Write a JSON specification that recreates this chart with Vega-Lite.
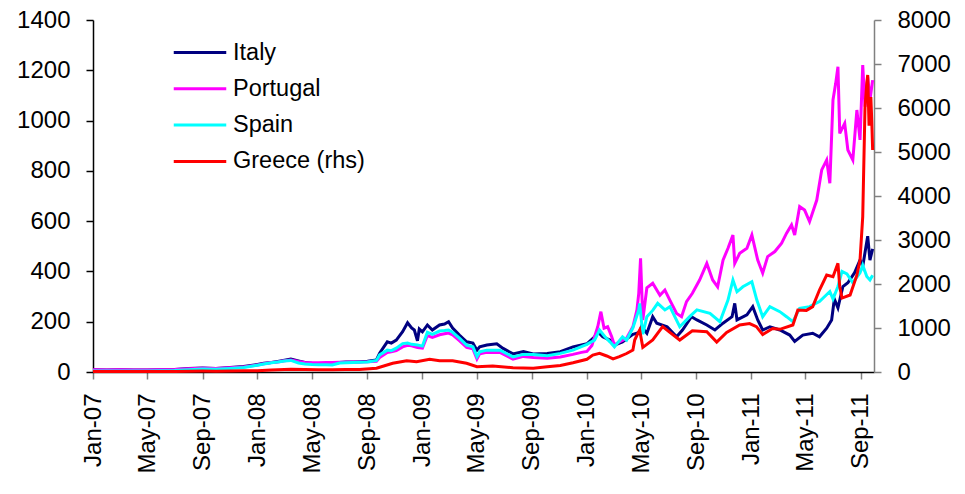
{
"$schema":"https://vega.github.io/schema/vega-lite/v6.json",
"width":781,"height":352,
"autosize":{"type":"none"},
"padding":{"left":93,"top":20,"right":91,"bottom":122},
"background":"white",
"config":{"view":{"stroke":null},"font":"Liberation Sans",
 "axis":{"labelFont":"Liberation Sans","labelColor":"#000","labelFontSize":24,"grid":false,"title":null,"tickSize":7,"labelFlush":false,"labelOverlap":false,"domainWidth":1.5,"tickWidth":1.5},
 "legend":{"padding":0}},
"data":{"values":[
{"date":"2007-01-01","series":"Italy","value":9},{"date":"2007-02-01","series":"Italy","value":8},{"date":"2007-03-01","series":"Italy","value":9},{"date":"2007-04-01","series":"Italy","value":8},{"date":"2007-05-01","series":"Italy","value":8},{"date":"2007-06-01","series":"Italy","value":9},{"date":"2007-07-01","series":"Italy","value":10},{"date":"2007-08-01","series":"Italy","value":14},{"date":"2007-09-01","series":"Italy","value":16},{"date":"2007-10-01","series":"Italy","value":14},{"date":"2007-11-01","series":"Italy","value":18},{"date":"2007-12-01","series":"Italy","value":22},
{"date":"2008-01-01","series":"Italy","value":30},{"date":"2008-01-15","series":"Italy","value":35},{"date":"2008-02-01","series":"Italy","value":38},{"date":"2008-02-15","series":"Italy","value":42},{"date":"2008-03-01","series":"Italy","value":47},{"date":"2008-03-15","series":"Italy","value":52},{"date":"2008-04-01","series":"Italy","value":44},{"date":"2008-04-15","series":"Italy","value":38},{"date":"2008-05-01","series":"Italy","value":35},{"date":"2008-05-15","series":"Italy","value":34},{"date":"2008-06-01","series":"Italy","value":33},{"date":"2008-06-15","series":"Italy","value":32},{"date":"2008-07-01","series":"Italy","value":38},{"date":"2008-07-15","series":"Italy","value":40},{"date":"2008-08-01","series":"Italy","value":40},{"date":"2008-08-14","series":"Italy","value":41},{"date":"2008-09-01","series":"Italy","value":43},{"date":"2008-09-21","series":"Italy","value":48},{"date":"2008-09-28","series":"Italy","value":75},{"date":"2008-10-15","series":"Italy","value":120},{"date":"2008-10-24","series":"Italy","value":115},{"date":"2008-11-04","series":"Italy","value":127},{"date":"2008-11-18","series":"Italy","value":160},{"date":"2008-11-29","series":"Italy","value":196},{"date":"2008-12-08","series":"Italy","value":175},{"date":"2008-12-14","series":"Italy","value":167},{"date":"2008-12-21","series":"Italy","value":124},{"date":"2008-12-25","series":"Italy","value":171},
{"date":"2009-01-01","series":"Italy","value":160},{"date":"2009-01-12","series":"Italy","value":187},{"date":"2009-01-23","series":"Italy","value":167},{"date":"2009-02-08","series":"Italy","value":187},{"date":"2009-02-19","series":"Italy","value":191},{"date":"2009-02-28","series":"Italy","value":200},{"date":"2009-03-09","series":"Italy","value":175},{"date":"2009-03-24","series":"Italy","value":147},{"date":"2009-04-09","series":"Italy","value":120},{"date":"2009-04-23","series":"Italy","value":115},{"date":"2009-05-02","series":"Italy","value":87},{"date":"2009-05-08","series":"Italy","value":100},{"date":"2009-05-24","series":"Italy","value":107},{"date":"2009-06-15","series":"Italy","value":112},{"date":"2009-06-29","series":"Italy","value":94},{"date":"2009-07-21","series":"Italy","value":72},{"date":"2009-08-13","series":"Italy","value":81},{"date":"2009-09-04","series":"Italy","value":72},{"date":"2009-10-05","series":"Italy","value":74},{"date":"2009-11-03","series":"Italy","value":81},{"date":"2009-12-01","series":"Italy","value":100},
{"date":"2010-01-01","series":"Italy","value":112},{"date":"2010-01-18","series":"Italy","value":140},{"date":"2010-01-25","series":"Italy","value":160},{"date":"2010-02-05","series":"Italy","value":140},{"date":"2010-02-21","series":"Italy","value":127},{"date":"2010-03-03","series":"Italy","value":107},{"date":"2010-03-21","series":"Italy","value":120},{"date":"2010-04-13","series":"Italy","value":150},{"date":"2010-04-22","series":"Italy","value":154},{"date":"2010-04-28","series":"Italy","value":160},{"date":"2010-05-02","series":"Italy","value":180},{"date":"2010-05-14","series":"Italy","value":154},{"date":"2010-05-27","series":"Italy","value":220},{"date":"2010-06-05","series":"Italy","value":194},{"date":"2010-06-28","series":"Italy","value":180},{"date":"2010-07-19","series":"Italy","value":140},{"date":"2010-08-01","series":"Italy","value":167},{"date":"2010-08-21","series":"Italy","value":220},{"date":"2010-09-02","series":"Italy","value":207},{"date":"2010-09-24","series":"Italy","value":187},{"date":"2010-10-12","series":"Italy","value":167},{"date":"2010-10-30","series":"Italy","value":194},{"date":"2010-11-19","series":"Italy","value":220},{"date":"2010-11-25","series":"Italy","value":273},{"date":"2010-11-30","series":"Italy","value":207},{"date":"2010-12-22","series":"Italy","value":227},
{"date":"2011-01-04","series":"Italy","value":260},{"date":"2011-01-15","series":"Italy","value":207},{"date":"2011-01-26","series":"Italy","value":167},{"date":"2011-02-11","series":"Italy","value":180},{"date":"2011-03-05","series":"Italy","value":167},{"date":"2011-03-27","series":"Italy","value":147},{"date":"2011-04-07","series":"Italy","value":122},{"date":"2011-04-25","series":"Italy","value":147},{"date":"2011-05-17","series":"Italy","value":154},{"date":"2011-06-01","series":"Italy","value":140},{"date":"2011-06-17","series":"Italy","value":174},{"date":"2011-06-28","series":"Italy","value":207},{"date":"2011-07-04","series":"Italy","value":290},{"date":"2011-07-12","series":"Italy","value":255},{"date":"2011-07-23","series":"Italy","value":340},{"date":"2011-08-03","series":"Italy","value":355},{"date":"2011-08-18","series":"Italy","value":395},{"date":"2011-08-30","series":"Italy","value":445},{"date":"2011-09-05","series":"Italy","value":420},{"date":"2011-09-16","series":"Italy","value":540},{"date":"2011-09-21","series":"Italy","value":445},{"date":"2011-09-27","series":"Italy","value":490},

{"date":"2007-01-01","series":"Portugal","value":9},{"date":"2007-02-01","series":"Portugal","value":8},{"date":"2007-03-01","series":"Portugal","value":9},{"date":"2007-04-01","series":"Portugal","value":8},{"date":"2007-05-01","series":"Portugal","value":8},{"date":"2007-06-01","series":"Portugal","value":9},{"date":"2007-07-01","series":"Portugal","value":10},{"date":"2007-08-01","series":"Portugal","value":13},{"date":"2007-09-01","series":"Portugal","value":15},{"date":"2007-10-01","series":"Portugal","value":14},{"date":"2007-11-01","series":"Portugal","value":17},{"date":"2007-12-01","series":"Portugal","value":20},
{"date":"2008-01-01","series":"Portugal","value":28},{"date":"2008-01-15","series":"Portugal","value":33},{"date":"2008-02-01","series":"Portugal","value":38},{"date":"2008-02-15","series":"Portugal","value":40},{"date":"2008-03-01","series":"Portugal","value":45},{"date":"2008-03-15","series":"Portugal","value":48},{"date":"2008-04-01","series":"Portugal","value":42},{"date":"2008-04-15","series":"Portugal","value":38},{"date":"2008-05-01","series":"Portugal","value":37},{"date":"2008-05-15","series":"Portugal","value":37},{"date":"2008-06-01","series":"Portugal","value":38},{"date":"2008-06-15","series":"Portugal","value":38},{"date":"2008-07-01","series":"Portugal","value":39},{"date":"2008-07-15","series":"Portugal","value":39},{"date":"2008-08-01","series":"Portugal","value":40},{"date":"2008-08-14","series":"Portugal","value":40},{"date":"2008-09-01","series":"Portugal","value":41},{"date":"2008-09-21","series":"Portugal","value":43},{"date":"2008-09-28","series":"Portugal","value":58},{"date":"2008-10-15","series":"Portugal","value":78},{"date":"2008-10-24","series":"Portugal","value":80},{"date":"2008-11-04","series":"Portugal","value":85},{"date":"2008-11-18","series":"Portugal","value":100},{"date":"2008-11-29","series":"Portugal","value":106},{"date":"2008-12-08","series":"Portugal","value":104},{"date":"2008-12-21","series":"Portugal","value":97},
{"date":"2009-01-01","series":"Portugal","value":95},{"date":"2009-01-12","series":"Portugal","value":145},{"date":"2009-01-23","series":"Portugal","value":138},{"date":"2009-02-08","series":"Portugal","value":148},{"date":"2009-02-19","series":"Portugal","value":152},{"date":"2009-02-28","series":"Portugal","value":155},{"date":"2009-03-09","series":"Portugal","value":148},{"date":"2009-03-24","series":"Portugal","value":125},{"date":"2009-04-09","series":"Portugal","value":98},{"date":"2009-04-23","series":"Portugal","value":92},{"date":"2009-05-02","series":"Portugal","value":52},{"date":"2009-05-08","series":"Portugal","value":72},{"date":"2009-05-24","series":"Portugal","value":78},{"date":"2009-06-22","series":"Portugal","value":78},{"date":"2009-07-21","series":"Portugal","value":51},{"date":"2009-08-13","series":"Portugal","value":62},{"date":"2009-09-04","series":"Portugal","value":58},{"date":"2009-10-05","series":"Portugal","value":55},{"date":"2009-11-03","series":"Portugal","value":60},{"date":"2009-12-01","series":"Portugal","value":70},{"date":"2009-12-20","series":"Portugal","value":78},
{"date":"2010-01-01","series":"Portugal","value":82},{"date":"2010-01-12","series":"Portugal","value":105},{"date":"2010-01-18","series":"Portugal","value":140},{"date":"2010-01-25","series":"Portugal","value":180},{"date":"2010-02-01","series":"Portugal","value":240},{"date":"2010-02-08","series":"Portugal","value":174},{"date":"2010-02-16","series":"Portugal","value":180},{"date":"2010-02-25","series":"Portugal","value":140},{"date":"2010-03-03","series":"Portugal","value":107},{"date":"2010-03-14","series":"Portugal","value":120},{"date":"2010-03-30","series":"Portugal","value":134},{"date":"2010-04-13","series":"Portugal","value":180},{"date":"2010-04-22","series":"Portugal","value":247},{"date":"2010-04-26","series":"Portugal","value":313},{"date":"2010-04-30","series":"Portugal","value":452},{"date":"2010-05-05","series":"Portugal","value":207},{"date":"2010-05-14","series":"Portugal","value":335},{"date":"2010-05-27","series":"Portugal","value":353},{"date":"2010-06-12","series":"Portugal","value":305},{"date":"2010-06-23","series":"Portugal","value":326},{"date":"2010-07-04","series":"Portugal","value":286},{"date":"2010-07-19","series":"Portugal","value":233},{"date":"2010-07-30","series":"Portugal","value":220},{"date":"2010-08-10","series":"Portugal","value":280},{"date":"2010-08-23","series":"Portugal","value":313},{"date":"2010-09-08","series":"Portugal","value":366},{"date":"2010-09-24","series":"Portugal","value":432},{"date":"2010-10-07","series":"Portugal","value":366},{"date":"2010-10-18","series":"Portugal","value":339},{"date":"2010-10-30","series":"Portugal","value":445},{"date":"2010-11-10","series":"Portugal","value":492},{"date":"2010-11-21","series":"Portugal","value":545},{"date":"2010-11-25","series":"Portugal","value":432},{"date":"2010-12-06","series":"Portugal","value":472},{"date":"2010-12-22","series":"Portugal","value":492},
{"date":"2011-01-02","series":"Portugal","value":545},{"date":"2011-01-15","series":"Portugal","value":445},{"date":"2011-01-26","series":"Portugal","value":393},{"date":"2011-02-06","series":"Portugal","value":459},{"date":"2011-02-22","series":"Portugal","value":479},{"date":"2011-03-09","series":"Portugal","value":512},{"date":"2011-03-20","series":"Portugal","value":552},{"date":"2011-03-31","series":"Portugal","value":585},{"date":"2011-04-07","series":"Portugal","value":545},{"date":"2011-04-18","series":"Portugal","value":658},{"date":"2011-04-29","series":"Portugal","value":644},{"date":"2011-05-10","series":"Portugal","value":598},{"date":"2011-05-26","series":"Portugal","value":684},{"date":"2011-06-06","series":"Portugal","value":804},{"date":"2011-06-17","series":"Portugal","value":843},{"date":"2011-06-24","series":"Portugal","value":751},{"date":"2011-07-01","series":"Portugal","value":1082},{"date":"2011-07-07","series":"Portugal","value":1148},{"date":"2011-07-12","series":"Portugal","value":1214},{"date":"2011-07-16","series":"Portugal","value":949},{"date":"2011-07-27","series":"Portugal","value":989},{"date":"2011-08-03","series":"Portugal","value":883},{"date":"2011-08-14","series":"Portugal","value":843},{"date":"2011-08-23","series":"Portugal","value":1042},{"date":"2011-08-30","series":"Portugal","value":923},{"date":"2011-09-05","series":"Portugal","value":1221},{"date":"2011-09-10","series":"Portugal","value":1055},{"date":"2011-09-16","series":"Portugal","value":1175},{"date":"2011-09-21","series":"Portugal","value":1082},{"date":"2011-09-27","series":"Portugal","value":1161},

{"date":"2007-01-01","series":"Spain","value":4},{"date":"2007-02-01","series":"Spain","value":4},{"date":"2007-03-01","series":"Spain","value":4},{"date":"2007-04-01","series":"Spain","value":4},{"date":"2007-05-01","series":"Spain","value":4},{"date":"2007-06-01","series":"Spain","value":5},{"date":"2007-07-01","series":"Spain","value":6},{"date":"2007-08-01","series":"Spain","value":9},{"date":"2007-09-01","series":"Spain","value":12},{"date":"2007-10-01","series":"Spain","value":11},{"date":"2007-11-01","series":"Spain","value":14},{"date":"2007-12-01","series":"Spain","value":18},
{"date":"2008-01-01","series":"Spain","value":27},{"date":"2008-01-15","series":"Spain","value":32},{"date":"2008-02-01","series":"Spain","value":37},{"date":"2008-02-15","series":"Spain","value":40},{"date":"2008-03-01","series":"Spain","value":44},{"date":"2008-03-15","series":"Spain","value":46},{"date":"2008-04-01","series":"Spain","value":36},{"date":"2008-04-15","series":"Spain","value":32},{"date":"2008-05-01","series":"Spain","value":30},{"date":"2008-05-15","series":"Spain","value":29},{"date":"2008-06-01","series":"Spain","value":29},{"date":"2008-06-15","series":"Spain","value":28},{"date":"2008-07-01","series":"Spain","value":36},{"date":"2008-07-15","series":"Spain","value":37},{"date":"2008-08-01","series":"Spain","value":38},{"date":"2008-08-14","series":"Spain","value":39},{"date":"2008-09-01","series":"Spain","value":40},{"date":"2008-09-21","series":"Spain","value":46},{"date":"2008-09-28","series":"Spain","value":68},{"date":"2008-10-15","series":"Spain","value":87},{"date":"2008-10-24","series":"Spain","value":85},{"date":"2008-11-04","series":"Spain","value":95},{"date":"2008-11-18","series":"Spain","value":113},{"date":"2008-11-29","series":"Spain","value":115},{"date":"2008-12-08","series":"Spain","value":110},{"date":"2008-12-21","series":"Spain","value":107},
{"date":"2009-01-01","series":"Spain","value":103},{"date":"2009-01-12","series":"Spain","value":158},{"date":"2009-01-23","series":"Spain","value":150},{"date":"2009-02-08","series":"Spain","value":163},{"date":"2009-02-19","series":"Spain","value":165},{"date":"2009-02-28","series":"Spain","value":167},{"date":"2009-03-09","series":"Spain","value":158},{"date":"2009-03-24","series":"Spain","value":135},{"date":"2009-04-09","series":"Spain","value":107},{"date":"2009-04-23","series":"Spain","value":100},{"date":"2009-05-02","series":"Spain","value":61},{"date":"2009-05-08","series":"Spain","value":80},{"date":"2009-05-24","series":"Spain","value":87},{"date":"2009-06-22","series":"Spain","value":87},{"date":"2009-07-21","series":"Spain","value":60},{"date":"2009-08-13","series":"Spain","value":70},{"date":"2009-09-04","series":"Spain","value":70},{"date":"2009-10-05","series":"Spain","value":65},{"date":"2009-11-03","series":"Spain","value":74},{"date":"2009-12-01","series":"Spain","value":87},
{"date":"2010-01-01","series":"Spain","value":110},{"date":"2010-01-18","series":"Spain","value":127},{"date":"2010-01-29","series":"Spain","value":167},{"date":"2010-02-10","series":"Spain","value":140},{"date":"2010-02-21","series":"Spain","value":120},{"date":"2010-03-03","series":"Spain","value":100},{"date":"2010-03-21","series":"Spain","value":140},{"date":"2010-03-30","series":"Spain","value":127},{"date":"2010-04-13","series":"Spain","value":175},{"date":"2010-04-26","series":"Spain","value":247},{"date":"2010-04-28","series":"Spain","value":273},{"date":"2010-05-05","series":"Spain","value":150},{"date":"2010-05-14","series":"Spain","value":220},{"date":"2010-05-27","series":"Spain","value":245},{"date":"2010-06-07","series":"Spain","value":273},{"date":"2010-06-23","series":"Spain","value":247},{"date":"2010-07-04","series":"Spain","value":260},{"date":"2010-07-26","series":"Spain","value":180},{"date":"2010-08-17","series":"Spain","value":220},{"date":"2010-09-02","series":"Spain","value":247},{"date":"2010-10-01","series":"Spain","value":233},{"date":"2010-10-23","series":"Spain","value":200},{"date":"2010-11-10","series":"Spain","value":286},{"date":"2010-11-21","series":"Spain","value":366},{"date":"2010-11-30","series":"Spain","value":319},{"date":"2010-12-13","series":"Spain","value":339},
{"date":"2011-01-02","series":"Spain","value":359},{"date":"2011-01-13","series":"Spain","value":286},{"date":"2011-01-26","series":"Spain","value":220},{"date":"2011-02-11","series":"Spain","value":260},{"date":"2011-03-05","series":"Spain","value":240},{"date":"2011-03-20","series":"Spain","value":220},{"date":"2011-04-03","series":"Spain","value":200},{"date":"2011-04-18","series":"Spain","value":253},{"date":"2011-05-10","series":"Spain","value":260},{"date":"2011-06-01","series":"Spain","value":280},{"date":"2011-06-24","series":"Spain","value":320},{"date":"2011-07-01","series":"Spain","value":290},{"date":"2011-07-12","series":"Spain","value":340},{"date":"2011-07-21","series":"Spain","value":400},{"date":"2011-08-01","series":"Spain","value":390},{"date":"2011-08-14","series":"Spain","value":355},{"date":"2011-08-30","series":"Spain","value":395},{"date":"2011-09-05","series":"Spain","value":425},{"date":"2011-09-14","series":"Spain","value":380},{"date":"2011-09-21","series":"Spain","value":366},{"date":"2011-09-27","series":"Spain","value":385},

{"date":"2007-01-01","series":"Greece (rhs)","value":10},{"date":"2007-02-01","series":"Greece (rhs)","value":10},{"date":"2007-03-01","series":"Greece (rhs)","value":9},{"date":"2007-04-01","series":"Greece (rhs)","value":9},{"date":"2007-05-01","series":"Greece (rhs)","value":10},{"date":"2007-06-01","series":"Greece (rhs)","value":11},{"date":"2007-07-01","series":"Greece (rhs)","value":13},{"date":"2007-08-01","series":"Greece (rhs)","value":18},{"date":"2007-09-01","series":"Greece (rhs)","value":20},{"date":"2007-10-01","series":"Greece (rhs)","value":19},{"date":"2007-11-01","series":"Greece (rhs)","value":22},{"date":"2007-12-01","series":"Greece (rhs)","value":26},
{"date":"2008-01-01","series":"Greece (rhs)","value":30},{"date":"2008-02-01","series":"Greece (rhs)","value":45},{"date":"2008-03-15","series":"Greece (rhs)","value":61},{"date":"2008-04-15","series":"Greece (rhs)","value":55},{"date":"2008-05-15","series":"Greece (rhs)","value":52},{"date":"2008-06-15","series":"Greece (rhs)","value":52},{"date":"2008-07-15","series":"Greece (rhs)","value":55},{"date":"2008-08-14","series":"Greece (rhs)","value":55},{"date":"2008-09-21","series":"Greece (rhs)","value":84},{"date":"2008-10-27","series":"Greece (rhs)","value":198},{"date":"2008-11-27","series":"Greece (rhs)","value":257},{"date":"2008-12-19","series":"Greece (rhs)","value":235},
{"date":"2009-01-17","series":"Greece (rhs)","value":288},{"date":"2009-02-08","series":"Greece (rhs)","value":257},{"date":"2009-03-09","series":"Greece (rhs)","value":257},{"date":"2009-04-09","series":"Greece (rhs)","value":198},{"date":"2009-05-02","series":"Greece (rhs)","value":121},{"date":"2009-06-06","series":"Greece (rhs)","value":136},{"date":"2009-07-21","series":"Greece (rhs)","value":98},{"date":"2009-09-04","series":"Greece (rhs)","value":84},{"date":"2009-10-05","series":"Greece (rhs)","value":121},{"date":"2009-11-03","series":"Greece (rhs)","value":150},{"date":"2009-12-01","series":"Greece (rhs)","value":212},
{"date":"2010-01-01","series":"Greece (rhs)","value":290},{"date":"2010-01-14","series":"Greece (rhs)","value":386},{"date":"2010-01-29","series":"Greece (rhs)","value":424},{"date":"2010-02-14","series":"Greece (rhs)","value":364},{"date":"2010-02-28","series":"Greece (rhs)","value":300},{"date":"2010-03-14","series":"Greece (rhs)","value":348},{"date":"2010-03-30","series":"Greece (rhs)","value":420},{"date":"2010-04-13","series":"Greece (rhs)","value":500},{"date":"2010-04-17","series":"Greece (rhs)","value":727},{"date":"2010-04-24","series":"Greece (rhs)","value":878},{"date":"2010-04-28","series":"Greece (rhs)","value":955},{"date":"2010-05-05","series":"Greece (rhs)","value":560},{"date":"2010-05-27","series":"Greece (rhs)","value":727},{"date":"2010-06-18","series":"Greece (rhs)","value":1030},{"date":"2010-07-04","series":"Greece (rhs)","value":900},{"date":"2010-07-26","series":"Greece (rhs)","value":727},{"date":"2010-08-23","series":"Greece (rhs)","value":935},{"date":"2010-09-24","series":"Greece (rhs)","value":916},{"date":"2010-10-16","series":"Greece (rhs)","value":680},{"date":"2010-11-07","series":"Greece (rhs)","value":900},{"date":"2010-12-06","series":"Greece (rhs)","value":1068},{"date":"2010-12-28","series":"Greece (rhs)","value":1100},
{"date":"2011-01-12","series":"Greece (rhs)","value":1030},{"date":"2011-01-26","series":"Greece (rhs)","value":850},{"date":"2011-02-17","series":"Greece (rhs)","value":990},{"date":"2011-03-05","series":"Greece (rhs)","value":970},{"date":"2011-04-03","series":"Greece (rhs)","value":1068},{"date":"2011-04-14","series":"Greece (rhs)","value":1409},{"date":"2011-05-03","series":"Greece (rhs)","value":1400},{"date":"2011-05-17","series":"Greece (rhs)","value":1485},{"date":"2011-06-01","series":"Greece (rhs)","value":1864},{"date":"2011-06-17","series":"Greece (rhs)","value":2205},{"date":"2011-07-01","series":"Greece (rhs)","value":2166},{"date":"2011-07-12","series":"Greece (rhs)","value":2470},{"date":"2011-07-16","series":"Greece (rhs)","value":1939},{"date":"2011-07-21","series":"Greece (rhs)","value":1680},{"date":"2011-08-08","series":"Greece (rhs)","value":1750},{"date":"2011-08-23","series":"Greece (rhs)","value":2200},{"date":"2011-08-30","series":"Greece (rhs)","value":2545},{"date":"2011-09-05","series":"Greece (rhs)","value":3530},{"date":"2011-09-10","series":"Greece (rhs)","value":6000},{"date":"2011-09-14","series":"Greece (rhs)","value":6561},{"date":"2011-09-16","series":"Greece (rhs)","value":6750},{"date":"2011-09-19","series":"Greece (rhs)","value":5600},{"date":"2011-09-23","series":"Greece (rhs)","value":6250},{"date":"2011-09-25","series":"Greece (rhs)","value":5727},{"date":"2011-09-27","series":"Greece (rhs)","value":5045}
]},
"layer":[
 {"transform":[{"filter":"datum.series !== 'Greece (rhs)'"}],
  "mark":{"type":"line","strokeWidth":3},
  "encoding":{
   "x":{"field":"date","type":"temporal","scale":{"domain":[{"year":2007,"month":1,"date":1},{"year":2011,"month":9,"date":30}]},
        "axis":{"format":"%b-%y","tickCount":{"interval":"month","step":4},"labelAngle":-90,"labelAlign":"right","labelBaseline":"middle","labelPadding":14,"domainColor":"#000","tickColor":"#808080"}},
   "y":{"field":"value","type":"quantitative","scale":{"domain":[0,1400]},
        "axis":{"values":[0,200,400,600,800,1000,1200,1400],"format":"d","domainColor":"#000","tickColor":"#000","labelPadding":16}},
   "color":{"field":"series","type":"nominal",
        "scale":{"domain":["Italy","Portugal","Spain","Greece (rhs)"],"range":["#000080","#FF00FF","#00FFFF","#FF0000"]},
        "legend":{"orient":"none","legendX":88,"legendY":13.5,"title":null,"symbolType":"M-1.5,0H1.5","symbolSize":1225,"symbolStrokeWidth":3,"labelFontSize":23.5,"labelFont":"Liberation Sans","labelColor":"#000","labelOffset":14,"rowPadding":5.3,"padding":0}}
  }},
 {"transform":[{"filter":"datum.series === 'Greece (rhs)'"}],
  "mark":{"type":"line","strokeWidth":3},
  "encoding":{
   "x":{"field":"date","type":"temporal"},
   "y":{"field":"value","type":"quantitative","scale":{"domain":[0,8000]},
        "axis":{"orient":"right","values":[0,1000,2000,3000,4000,5000,6000,7000,8000],"format":"d","domainColor":"#808080","tickColor":"#808080","labelPadding":16}},
   "color":{"field":"series","type":"nominal"}
  }}
],
"resolve":{"scale":{"y":"independent"}}
}
